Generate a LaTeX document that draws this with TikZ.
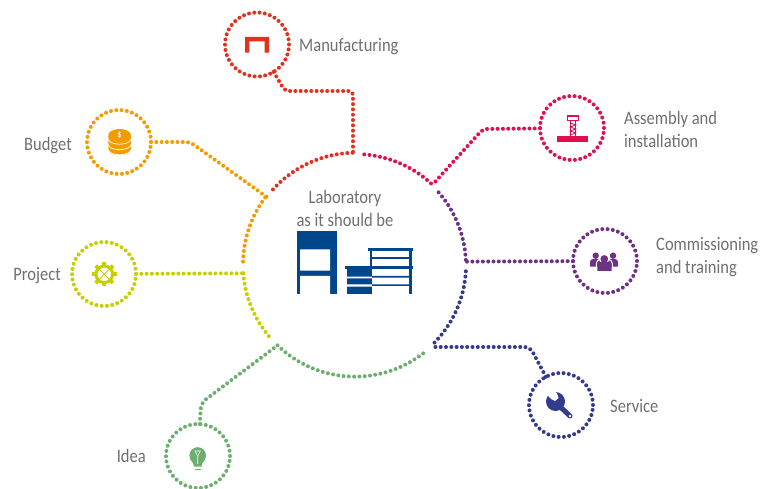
\documentclass[tikz,border=0pt]{standalone}
\usepackage{fontspec}
\setmainfont[FakeStretch=0.87]{Carlito}
\usepackage{tikz}
\definecolor{cRed}{HTML}{E2311D}
\definecolor{cRose}{HTML}{E0104F}
\definecolor{cPurple}{HTML}{6E3183}
\definecolor{cNavy}{HTML}{343A8C}
\definecolor{cGreen}{HTML}{6DAF6E}
\definecolor{cLime}{HTML}{C6CF00}
\definecolor{cOrange}{HTML}{F39C00}
\definecolor{cBlue}{HTML}{00468B}
\definecolor{cText}{HTML}{6F6F6E}
\tikzset{
  dotline/.style={line width=4pt, line cap=round, dash pattern=on 0pt off 5.3pt},
  badge/.style={shape=circle, minimum size=64pt, inner sep=0pt, outer sep=0pt, dotline},
  nametext/.style={text=cText, font=\fontsize{19}{23}\selectfont, align=left, inner sep=0pt}
}
\begin{document}
\begin{tikzpicture}[x=1pt, y=1pt]
\useasboundingbox (0,0) rectangle (774,488);
% circles
\node[shape=circle, minimum size=223pt, inner sep=0pt, outer sep=0pt](hub) at (354.5,222.5) {};
\node[badge, draw=cRed](manufacturing) at (257,443.5) {};
\node[badge, draw=cOrange](budget) at (119,346) {};
\node[badge, draw=cLime](project) at (104,214) {};
\node[badge, draw=cRose](assembly) at (572,360) {};
\node[badge, draw=cPurple](commissioning) at (605,227) {};
\node[badge, draw=cNavy](service) at (561,83) {};
\node[badge, draw=cGreen](idea) at (198,32) {};
% bends
\coordinate (manufacturingbend1) at (285,397);
\coordinate (manufacturingbend2) at (353,397);
\coordinate (manufacturingend) at (353,333);
\coordinate (budgetbend) at (190,346);
\coordinate (assemblybend) at (483,359);
\coordinate (servicebend) at (530,141);
\coordinate (serviceend) at (431,141);
\coordinate (ideabend) at (201,85);
% ring
\draw[dotline, cRed] (hub.137.9) arc[start angle=137.9, end angle=90.8, radius=111.5];
\draw[dotline, cRose] (hub.85.6) arc[start angle=85.6, end angle=46.1, radius=111.5];
\draw[dotline, cPurple] (hub.41) arc[start angle=41, end angle=2.3, radius=111.5];
\draw[dotline, cNavy] (hub.-3.3) arc[start angle=-3.3, end angle=-45.7, radius=111.5];
\draw[dotline, cGreen] (hub.-52.3) arc[start angle=-52.3, end angle=-134.3, radius=111.5];
\draw[dotline, cLime] (hub.184.4) arc[start angle=184.4, end angle=220.3, radius=111.5];
\draw[dotline, cOrange] (hub.178.7) arc[start angle=178.7, end angle=142.7, radius=111.5];
% connectors
\draw[dotline, cRed, rounded corners=4pt] (manufacturing) -- (manufacturingbend1) -- (manufacturingbend2) -- (manufacturingend);
\draw[dotline, cOrange, rounded corners=4pt] (budget) -- (budgetbend) -- (hub.142.7);
\draw[dotline, cLime] (project) -- (hub.184.4);
\draw[dotline, cRose, rounded corners=4pt] (assembly) -- (assemblybend) -- (hub.46.1);
\draw[dotline, cPurple] (commissioning) -- (hub.2.3);
\draw[dotline, cNavy, rounded corners=5pt] (service) -- (servicebend) -- (serviceend);
\draw[dotline, cGreen, rounded corners=6pt] (idea) -- (ideabend) -- (hub.-134.3);
% texts
\node[nametext, anchor=west](manufacturingtext) at (299,441.5) {Manufacturing};
\node[nametext, anchor=east](budgettext) at (72,342.5) {Budget};
\node[nametext, anchor=east](projecttext) at (61,212.5) {Project};
\node[nametext, anchor=west](assemblytext) at (624,359) {Assembly and\\installation};
\node[nametext, anchor=west](commissioningtext) at (656,230.5) {Commissioning\\and training};
\node[nametext, anchor=west](servicetext) at (610,81.5) {Service};
\node[nametext, anchor=east](ideatext) at (146,32.5) {Idea};
\node[nametext, align=center](labtext) at (345,279.5) {Laboratory\\as it should be};
% laboratory
\fill[cBlue] (297.3,257) rectangle (337.3,193.7);
\fill[white] (300,238.7) rectangle (330,217.3) (300,212) rectangle (330,193.7);
\fill[cBlue] (367.7,239.7) rectangle (413,237.3);
\fill[cBlue] (370,239.7) rectangle (372.3,222);
\fill[cBlue] (409.3,239.7) rectangle (411.7,193.7);
\fill[cBlue] (370,231.3) rectangle (411,229.3);
\fill[cBlue] (345,222) rectangle (413,219);
\fill[cBlue] (346.7,219) rectangle (372,193.7);
\fill[white] (346.7,211.3) rectangle (372,209.7) (346.7,203.7) rectangle (372,201.3);
\fill[cBlue] (372,212) rectangle (410,210.3) (372,203.7) rectangle (410,202);
% manufacturing icon
\fill[cRed] (245,435.3) -- (245,451) -- (269,451) -- (269,435.3) -- (264.7,435.3) -- (264.7,446.7) -- (249.3,446.7) -- (249.3,435.3) -- cycle;
% budget icon
\fill[cOrange] (108.3,352) -- (108.3,338) arc[start angle=180, end angle=360, x radius=11.3, y radius=5.2] -- (131,352) -- cycle;
\fill[cOrange] (119.6,353) ellipse[x radius=11.3, y radius=6];
\foreach \h in {343.5,338.5}
  \draw[white, line width=0.7pt] (108.3,\h) arc[start angle=180, end angle=360, x radius=11.3, y radius=5.2];
\draw[white, line width=0.7pt] (108.3,349) arc[start angle=180, end angle=360, x radius=11.3, y radius=5.2];
\node[text=white, inner sep=0pt, font=\bfseries\fontsize{9}{9}\selectfont](dollar) at (119.6,353) {\$};
% project icon
\foreach \a in {0,45,...,315}
  \fill[cLime, shift={(104.3,213.7)}, rotate=\a] (9,-1.9) rectangle (12.2,1.9);
\draw[cLime, line width=3pt] (104.3,213.7) circle[radius=8.3];
\draw[cLime, line width=0.9pt] (98.5,207.9) -- (110.1,219.5) (98.5,219.5) -- (110.1,207.9);
% assembly icon
\fill[cRose] (557,352) rectangle (588,346);
\draw[cRose, line width=1.2pt] (567.2,372) rectangle (578.8,367.5);
\draw[cRose, line width=1.2pt] (570.2,367.5) -- (570.2,352) (575.8,367.5) -- (575.8,352);
\draw[cRose, line width=0.8pt] (570.2,365) -- (575.8,363) -- (570.2,361) -- (575.8,359) -- (570.2,357) -- (575.8,355) -- (570.2,353);
% commissioning icon
\fill[cPurple] (595.7,232.3) circle[radius=3.2] (613,232.3) circle[radius=3.2];
\fill[cPurple] (590,221.3) -- (590,226) arc[start angle=180, end angle=90, radius=3] -- (597,229) arc[start angle=90, end angle=0, radius=3] -- (600,221.3) -- cycle;
\fill[cPurple] (608,221.3) -- (608,226) arc[start angle=180, end angle=90, radius=3] -- (615,229) arc[start angle=90, end angle=0, radius=3] -- (618,221.3) -- cycle;
\fill[white] (604.3,229) circle[radius=5];
\draw[white, line width=1pt] (596.3,216.5) -- (596.3,224.5) arc[start angle=180, end angle=90, radius=4] -- (608.3,228.5) arc[start angle=90, end angle=0, radius=4] -- (612.3,216.5);
\fill[cPurple] (604.3,229) circle[radius=3.9];
\fill[cPurple] (597.3,217) -- (597.3,222.5) arc[start angle=180, end angle=90, radius=3.5] -- (608.2,226) arc[start angle=90, end angle=0, radius=3.5] -- (611.7,217) -- cycle;
% service icon
\draw[cNavy, line width=5pt, line cap=round] (555,86) -- (570,72);
\fill[cNavy] (555.5,86.5) circle[radius=9.5];
\fill[white] (546,94.5) -- (551,89) -- (555,87) -- (558.5,90) -- (557,94.5) -- (552,100) -- cycle;
\fill[white] (570,72) circle[radius=1.3];
% idea icon
\fill[cGreen] (197.7,32.5) circle[radius=8.3];
\fill[cGreen] (190.5,28.5) .. controls (193,25) and (194,24) .. (194,21.5) -- (201.5,21.5) .. controls (201.5,24) and (202.5,25) .. (205,28.5) -- cycle;
\fill[cGreen] (194.5,19.5) rectangle (201,18);
\draw[white, line width=0.6pt] (195,37) -- (200.4,37) -- (197.7,32) -- cycle (197.7,32) -- (197.7,24);
\end{tikzpicture}
\end{document}
